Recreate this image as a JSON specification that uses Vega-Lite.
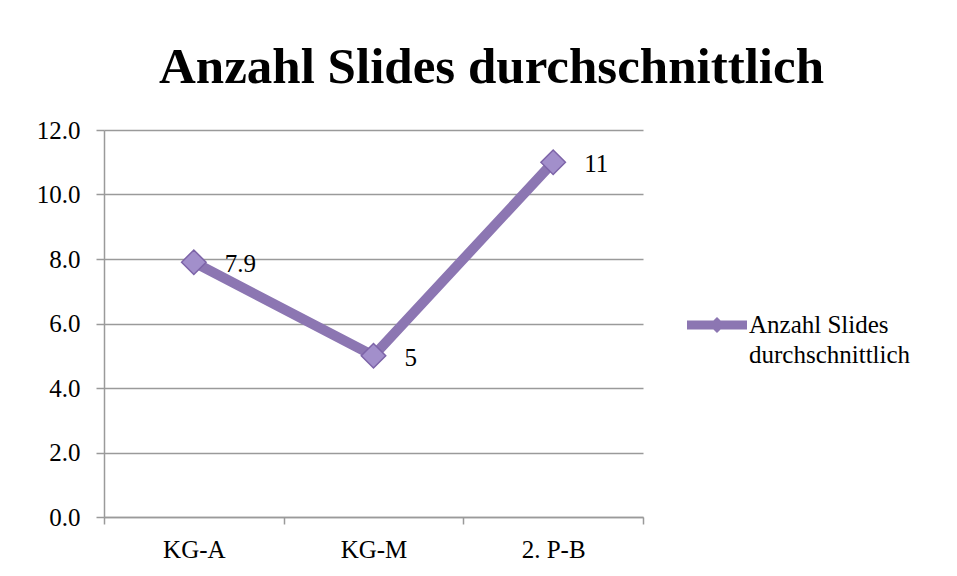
{
  "$schema": "https://vega.github.io/schema/vega-lite/v6.json",
  "autosize": {"type": "none"},
  "width": 539,
  "height": 387,
  "padding": {"left": 104, "top": 130, "right": 314, "bottom": 59},
  "background": "white",
  "title": {
    "text": "Anzahl Slides durchschnittlich",
    "font": "Liberation Serif",
    "fontSize": 51,
    "fontWeight": "bold",
    "color": "black",
    "anchor": "middle",
    "frame": "group",
    "dx": 118,
    "offset": 24
  },
  "data": {
    "values": [
      {"gruppe": "KG-A", "wert": 7.9, "label": "7.9", "serie": "Anzahl Slides durchschnittlich"},
      {"gruppe": "KG-M", "wert": 5, "label": "5", "serie": "Anzahl Slides durchschnittlich"},
      {"gruppe": "2. P-B", "wert": 11, "label": "11", "serie": "Anzahl Slides durchschnittlich"}
    ]
  },
  "config": {
    "view": {"stroke": null},
    "font": "Liberation Serif",
    "axis": {
      "labelFont": "Liberation Serif",
      "labelFontSize": 25,
      "labelColor": "black",
      "domainColor": "#9a9a9a",
      "domainWidth": 1.5,
      "tickColor": "#9a9a9a",
      "tickWidth": 1.5,
      "gridColor": "#9a9a9a",
      "gridWidth": 1.5
    }
  },
  "encoding": {
    "x": {
      "field": "gruppe",
      "type": "nominal",
      "sort": null,
      "scale": {"paddingInner": 0, "paddingOuter": 0},
      "axis": {
        "title": null,
        "labelAngle": 0,
        "tickBand": "extent",
        "tickSize": 7,
        "labelPadding": 13,
        "grid": false
      }
    },
    "y": {
      "field": "wert",
      "type": "quantitative",
      "scale": {"domain": [0, 12], "nice": false},
      "axis": {
        "title": null,
        "values": [0, 2, 4, 6, 8, 10, 12],
        "format": ".1f",
        "tickSize": 8,
        "labelPadding": 16,
        "grid": true
      }
    }
  },
  "layer": [
    {
      "mark": {"type": "line", "strokeWidth": 10, "strokeCap": "round", "strokeJoin": "round"},
      "encoding": {
        "color": {
          "field": "serie",
          "type": "nominal",
          "scale": {"range": ["#8c76b2"]},
          "legend": {
            "title": null,
            "orient": "none",
            "legendX": 583,
            "legendY": 165,
            "padding": 0,
            "symbolType": "M-1,-0.15 L1,-0.15 L1,0.15 L-1,0.15 Z M0,-0.27 L0.27,0 L0,0.27 L-0.27,0 Z",
            "symbolSize": 3600,
            "symbolStrokeWidth": 0,
            "symbolFillColor": "#8c76b2",
            "labelFont": "Liberation Serif",
            "labelFontSize": 25,
            "labelColor": "black",
            "labelLimit": 300,
            "labelOffset": 2,
            "labelExpr": "['Anzahl Slides', 'durchschnittlich']",
            "labelBaseline": "top",
            "encode": {"labels": {"update": {"lineHeight": {"value": 30}, "dy": {"value": -12}}}}
          }
        }
      }
    },
    {
      "mark": {"type": "point", "shape": "diamond", "filled": true, "size": 600, "fill": "#a28fcb", "stroke": "#7d64a8", "strokeWidth": 1.5, "opacity": 1}
    },
    {
      "mark": {"type": "text", "align": "left", "baseline": "middle", "dx": 31, "dy": 2, "fontSize": 25, "font": "Liberation Serif", "color": "black"},
      "encoding": {"text": {"field": "label"}}
    }
  ]
}
